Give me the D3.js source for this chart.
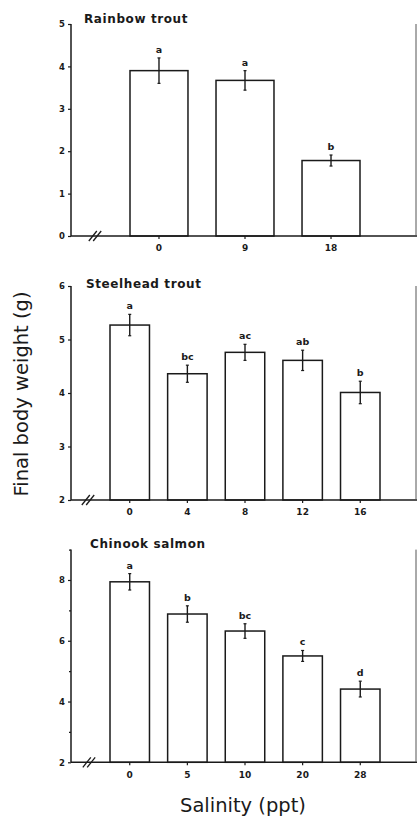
<!DOCTYPE html>
<html><head><meta charset="utf-8">
<script src="https://cdn.jsdelivr.net/npm/d3@7"></script>
<style>body{margin:0;background:#fff}svg{display:block}</style>
</head><body>
<svg id="c" width="417" height="818"></svg>
<script>
// Rainbow trout
const rainbowCats = ["0","9","18"];
const rainbowVals = [3.9, 3.67, 1.78];
const rainbowErr  = [0.3, 0.23, 0.13];
const rainbowSig  = ["a","a","b"];
const rainbowTicks = [0,1,2,3,4,5];
// Steelhead trout
const steelCats = ["0","4","8","12","16"];
const steelVals = [5.27, 4.36, 4.76, 4.61, 4.01];
const steelErr  = [0.2, 0.16, 0.15, 0.19, 0.21];
const steelSig  = ["a","bc","ac","ab","b"];
const steelTicks = [2,3,4,5,6];
// Chinook salmon
const chinookCats = ["0","5","10","20","28"];
const chinookVals = [7.94, 6.88, 6.32, 5.5, 4.41];
const chinookErr  = [0.27, 0.27, 0.24, 0.18, 0.26];
const chinookSig  = ["a","b","bc","c","d"];
const chinookTicks = [2,4,6,8];
const chinookMinor = [3,5,7,9];

const panels = [
  {title:"Rainbow trout", cats:rainbowCats, vals:rainbowVals, err:rainbowErr, sig:rainbowSig, ticks:rainbowTicks, minor:[],
   dom:[0,5], yr:[236,24], xr:[130,360], pad:0.326, brk:95, tx:84, ty:23},
  {title:"Steelhead trout", cats:steelCats, vals:steelVals, err:steelErr, sig:steelSig, ticks:steelTicks, minor:[],
   dom:[2,6], yr:[500,286], xr:[110,380], pad:0.315, brk:88, tx:86, ty:288},
  {title:"Chinook salmon", cats:chinookCats, vals:chinookVals, err:chinookErr, sig:chinookSig, ticks:chinookTicks, minor:chinookMinor,
   dom:[2,9], yr:[762.3,549.6], xr:[110,380], pad:0.315, brk:89, tx:90, ty:548}
];

const svg = d3.select("#c");
const ink = "#1a1a1a";
const font = "DejaVu Sans, sans-serif";
const axX = 71, rightX = 416;

panels.forEach(p => {
  const y = d3.scaleLinear().domain(p.dom).range(p.yr);
  const x = d3.scaleBand().domain(p.cats).range(p.xr).paddingInner(p.pad).paddingOuter(0);
  const g = svg.append("g");
  const base = y(p.dom[0]), top = y(p.dom[1]);

  // y axis
  const ya = d3.axisLeft(y).tickValues(p.ticks).tickSize(3).tickPadding(3).tickFormat(d3.format("d"));
  const yg = g.append("g").attr("transform",`translate(${axX},0)`).call(ya);
  yg.select(".domain").remove();
  yg.selectAll("line").attr("stroke",ink).attr("stroke-width",1.2);
  yg.selectAll("text").attr("font-family",font).attr("font-size",8.5).attr("font-weight","bold").attr("fill",ink);
  if (p.minor.length){
    const ym = d3.axisLeft(y).tickValues(p.minor).tickSize(2).tickFormat("");
    const mg = g.append("g").attr("transform",`translate(${axX},0)`).call(ym);
    mg.select(".domain").remove();
    mg.selectAll("line").attr("stroke",ink).attr("stroke-width",1.2);
  }
  const top2 = p.minor.length ? y(d3.max(p.minor)) : top;
  g.append("line").attr("x1",axX).attr("x2",axX).attr("y1",top2).attr("y2",base).attr("stroke",ink).attr("stroke-width",1.5);

  // bars
  g.selectAll("rect.bar").data(p.vals).join("rect").attr("class","bar")
    .attr("x",(d,i)=>x(p.cats[i])).attr("width",x.bandwidth())
    .attr("y",d=>y(d)).attr("height",d=>base-y(d))
    .attr("fill","#fff").attr("stroke",ink).attr("stroke-width",1.5);

  // baseline and right edge
  g.append("line").attr("x1",axX).attr("x2",417).attr("y1",base).attr("y2",base).attr("stroke",ink).attr("stroke-width",1.5);
  g.append("line").attr("x1",rightX).attr("x2",rightX).attr("y1",top2).attr("y2",base).attr("stroke","#555").attr("stroke-width",1);

  // x axis ticks & labels
  const xa = d3.axisBottom(x).tickSize(3).tickPadding(6);
  const xg = g.append("g").attr("transform",`translate(0,${base})`).call(xa);
  xg.select(".domain").remove();
  xg.selectAll("line").attr("stroke",ink).attr("stroke-width",1.2);
  xg.selectAll("text").attr("font-family",font).attr("font-size",9).attr("font-weight","bold").attr("fill",ink);

  // break marks
  [-2.2, 2.2].forEach(o=>{
    g.append("line").attr("x1",p.brk+o-4).attr("y1",base+5).attr("x2",p.brk+o+4).attr("y2",base-5)
      .attr("stroke",ink).attr("stroke-width",1.3);
  });

  // error bars
  p.vals.forEach((v,i)=>{
    const cx = x(p.cats[i]) + x.bandwidth()/2;
    const e = p.err[i];
    g.append("line").attr("x1",cx).attr("x2",cx).attr("y1",y(v+e)).attr("y2",y(v-e)).attr("stroke",ink).attr("stroke-width",1.4);
    [v+e, v-e].forEach(t=>{
      g.append("line").attr("x1",cx-1.5).attr("x2",cx+1.5).attr("y1",y(t)).attr("y2",y(t)).attr("stroke",ink).attr("stroke-width",1.2);
    });
    g.append("text").attr("x",cx).attr("y",y(v+e)-5).attr("text-anchor","middle")
      .attr("font-family",font).attr("font-size",9.5).attr("font-weight","bold").attr("fill",ink).text(p.sig[i]);
  });

  // title
  g.append("text").attr("x",p.tx).attr("y",p.ty).attr("font-family",font).attr("font-size",12)
    .attr("letter-spacing",0.6).attr("font-weight","bold").attr("fill",ink).text(p.title);
});

// axis labels
svg.append("text").attr("transform","translate(28,394) rotate(-90)").attr("text-anchor","middle")
  .attr("font-family",font).attr("font-size",19.5).attr("fill",ink).text("Final body weight (g)");
svg.append("text").attr("x",243).attr("y",812).attr("text-anchor","middle")
  .attr("font-family",font).attr("font-size",19.5).attr("fill",ink).text("Salinity (ppt)");
</script>
</body></html>
